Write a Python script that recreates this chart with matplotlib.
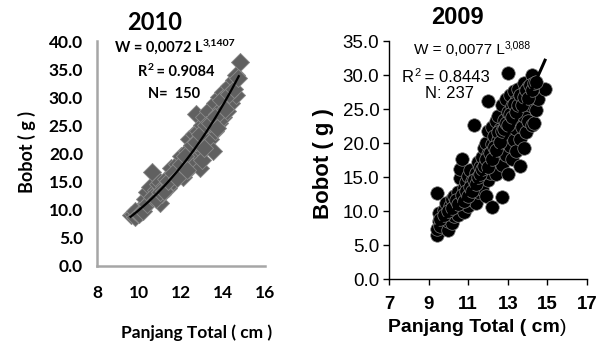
import matplotlib
matplotlib.use('Agg')
import matplotlib.pyplot as plt
from matplotlib.text import Annotation
import numpy as np

# --- 2010 (panel kiri) ---
pj_2010 = [9.6, 9.7, 9.8, 9.9, 10.0, 10.1, 10.2, 10.3, 10.3, 10.4, 10.5, 10.5, 10.6, 10.7,
           10.8, 10.9, 11.0, 11.0, 11.1, 11.2, 11.3, 11.4, 11.5, 11.6, 11.7, 11.8, 11.9, 12.0,
           12.0, 12.1, 12.2, 12.3, 12.4, 12.4, 12.5, 12.6, 12.6, 12.7, 12.7, 12.8, 12.8, 12.9,
           12.9, 13.0, 13.0, 13.1, 13.1, 13.2, 13.3, 13.3, 13.4, 13.5, 13.5, 13.6, 13.6, 13.7,
           13.8, 13.8, 13.9, 14.0, 14.0, 14.1, 14.2, 14.2, 14.3, 14.4, 14.5, 14.6, 14.6, 14.8,
           9.8, 10.0, 10.2, 10.4, 10.6, 10.8, 11.0, 11.2, 11.4, 11.6, 11.8, 12.0, 12.2, 12.3,
           12.5, 12.7, 12.9, 13.0, 13.1, 13.2, 13.4, 13.6, 13.7, 13.9, 14.1, 14.3, 14.5, 14.7]
bb_2010 = [9.0, 9.3, 8.8, 9.5, 10.0, 9.6, 10.4, 10.8, 12.0, 13.2, 11.5, 14.0, 16.8, 12.6,
           13.5, 14.5, 11.2, 15.0, 12.8, 14.2, 15.5, 13.8, 17.5, 15.2, 16.0, 18.2, 16.5, 17.0,
           19.5, 15.8, 18.0, 20.5, 17.2, 22.5, 19.0, 21.0, 23.5, 18.5, 27.0, 20.0, 24.0, 17.5,
           22.0, 25.0, 20.5, 23.0, 26.5, 21.5, 24.5, 27.5, 22.5, 20.5, 26.0, 29.0, 24.0, 27.0,
           30.0, 25.5, 28.0, 31.0, 26.5, 29.5, 30.5, 27.5, 32.0, 29.0, 33.0, 30.4, 34.0, 36.2,
           9.8, 9.2, 9.8, 11.0, 12.2, 12.0, 13.2, 13.4, 15.2, 16.6, 15.6, 18.2, 19.6, 17.0,
           21.5, 22.0, 23.5, 18.8, 21.0, 25.0, 25.5, 26.5, 24.6, 29.5, 28.0, 30.5, 31.5, 33.5]
a_2010, b_2010 = 0.0072, 3.1407

# --- 2009 (panel kanan) ---
pj_2009 = [9.4, 9.4, 9.5, 9.5, 9.4, 9.6, 9.7, 9.8, 9.9, 10.0, 10.0, 10.1, 10.1, 10.2, 10.2,
           10.3, 10.3, 10.4, 10.4, 10.5, 10.5, 10.6, 10.6, 10.6, 10.7, 10.7, 10.8, 10.8, 10.9,
           10.9, 11.0, 11.0, 11.0, 11.1, 11.1, 11.2, 11.2, 11.3, 11.3, 11.4, 11.4, 11.5, 11.5,
           11.6, 11.6, 11.7, 11.7, 11.8, 11.8, 11.9, 11.9, 11.9, 12.0, 12.0, 12.0, 12.0, 12.1,
           12.1, 12.2, 12.2, 12.2, 12.3, 12.3, 12.3, 12.4, 12.4, 12.5, 12.5, 12.5, 12.6, 12.6,
           12.7, 12.7, 12.7, 12.8, 12.8, 12.9, 12.9, 13.0, 13.0, 13.0, 13.0, 13.1, 13.1, 13.2,
           13.2, 13.2, 13.3, 13.3, 13.3, 13.4, 13.4, 13.4, 13.5, 13.5, 13.6, 13.6, 13.6, 13.7,
           13.7, 13.8, 13.8, 13.8, 13.9, 13.9, 14.0, 14.0, 14.1, 14.2, 14.2, 14.3, 14.3, 14.4,
           14.5, 14.9,
           9.6, 9.8, 10.0, 10.2, 10.4, 10.5, 10.7, 10.8, 10.9, 11.0, 11.1, 11.2, 11.3, 11.4,
           11.5, 11.6, 11.7, 11.8, 11.9, 12.0, 12.1, 12.2, 12.3, 12.4, 12.5, 12.6, 12.7, 12.8,
           12.9, 13.0, 13.1, 13.2, 13.3, 13.4, 13.5, 13.6, 13.7, 13.8, 13.9, 14.0, 14.1, 14.2,
           14.3, 14.4]
bb_2009 = [6.5, 7.3, 8.5, 9.7, 12.6, 7.8, 9.0, 10.2, 11.2, 7.2, 8.6, 9.6, 10.8, 8.2, 11.8,
           9.2, 12.2, 10.0, 11.0, 9.4, 12.8, 10.6, 14.8, 16.2, 17.6, 11.6, 13.4, 9.8, 12.0,
           14.2, 10.8, 13.0, 15.2, 11.8, 16.0, 12.6, 14.4, 22.7, 13.6, 11.2, 15.6, 17.2, 12.8,
           14.0, 16.4, 18.0, 13.2, 15.0, 19.2, 12.2, 16.8, 20.0, 26.2, 14.6, 18.4, 21.8, 17.0,
           15.6, 10.6, 19.8, 22.4, 16.2, 18.6, 21.0, 23.2, 15.4, 17.6, 20.4, 24.0, 19.0, 22.0,
           12.1, 16.8, 25.6, 20.8, 23.4, 18.2, 26.4, 30.3, 15.5, 21.6, 24.6, 19.6, 27.0, 17.6,
           22.8, 25.4, 20.4, 24.0, 27.6, 18.8, 22.0, 26.2, 23.6, 28.0, 16.6, 20.6, 25.0, 22.4,
           27.2, 19.2, 24.0, 28.8, 21.6, 26.4, 23.2, 28.2, 25.6, 30.0, 22.6, 22.9, 26.8, 24.8,
           26.4, 28.0,
           8.8, 9.4, 10.0, 10.4, 11.6, 11.0, 12.4, 11.4, 13.0, 12.2, 13.6, 13.0, 14.6, 14.0,
           15.0, 15.4, 16.2, 16.6, 17.6, 16.4, 18.6, 17.6, 19.4, 19.0, 21.6, 20.2, 21.8, 22.0,
           23.0, 22.6, 24.2, 23.8, 25.8, 24.6, 25.6, 27.0, 25.6, 26.8, 27.8, 26.6, 28.6, 27.8,
           28.8, 29.0]
a_2009, b_2009 = 0.0077, 3.088

W, H = 612, 347
fig = plt.figure(figsize=(W / 100, H / 100), dpi=100)


def frac(x, y):
    return x / W, 1 - y / H


# ---------- panel kiri ----------
cal = 'Lato'
ax1 = fig.add_axes([97 / W, 1 - 266 / H, 168 / W, 225 / H])
ax1.scatter(pj_2010, bb_2010, marker='D', s=85, color='#606060',
            edgecolors='#8a8a8a', linewidths=0.6, zorder=2)
L1 = np.linspace(9.6, 14.75, 100)
ax1.plot(L1, a_2010 * L1 ** b_2010, color='black', lw=1.6, zorder=3)
ax1.set_xlim(8, 16)
ax1.set_ylim(0, 40)
ax1.set_xticks([8, 10, 12, 14, 16])
ax1.set_yticks(np.arange(0, 41, 5))
ax1.set_yticklabels([f'{v:.1f}' for v in np.arange(0, 41, 5)])
for s in ['top', 'right']:
    ax1.spines[s].set_visible(False)
for s in ['left', 'bottom']:
    ax1.spines[s].set_color('#a6a6a6')
    ax1.spines[s].set_linewidth(1.8)
ax1.tick_params(axis='both', length=0, labelsize=12.5)
ax1.tick_params(axis='x', pad=14)
ax1.tick_params(axis='y', pad=10)
for lab in ax1.get_xticklabels() + ax1.get_yticklabels():
    lab.set_fontweight('bold')
    lab.set_family(cal)

fig.text(*frac(155, 22), '2010', ha='center', va='center', fontsize=17,
         fontweight='bold', family=cal)
fig.text(*frac(27, 152), 'Bobot ( g )', ha='center', va='center', rotation=90,
         fontsize=13, fontweight='bold', family=cal)
fig.text(*frac(197, 333), 'Panjang Total ( cm )', ha='center', va='center',
         fontsize=12.5, fontweight='bold', family=cal)
t = fig.text(*frac(115, 48), 'W = 0,0072 L', ha='left', va='center',
             fontsize=10.5, fontweight='bold', family=cal)
fig.add_artist(Annotation('3,1407', xy=(1.0, 1.15), xycoords=t, va='top', ha='left',
                          fontsize=7.5, fontweight='bold', family=cal))
t = fig.text(*frac(138, 72), 'R', ha='left', va='center',
             fontsize=10.5, fontweight='bold', family=cal)
t2 = fig.add_artist(Annotation('2', xy=(1.0, 1.15), xycoords=t, va='top', ha='left',
                               fontsize=7.5, fontweight='bold', family=cal))
fig.add_artist(Annotation(' = 0.9084', xy=(1.0, 0.5), xycoords=(t2, t), va='center',
                          ha='left', fontsize=10.5, fontweight='bold', family=cal))
fig.text(*frac(148, 94), 'N=  150', ha='left', va='center',
         fontsize=10.5, fontweight='bold', family=cal)

# ---------- panel kanan ----------
ari = 'Liberation Sans'
ax2 = fig.add_axes([389 / W, 1 - 279 / H, 198 / W, 238 / H])
ax2.scatter(pj_2009, bb_2009, marker='o', s=95, color='black',
            edgecolors='#808080', linewidths=0.5, zorder=2)
L2 = np.linspace(9.4, 14.88, 100)
ax2.plot(L2, a_2009 * L2 ** b_2009, color='black', lw=2.2, zorder=3)
ax2.set_xlim(7, 17)
ax2.set_ylim(0, 35)
ax2.set_xticks([7, 9, 11, 13, 15, 17])
ax2.set_yticks(np.arange(0, 36, 5))
ax2.set_yticklabels([f'{v:.1f}' for v in np.arange(0, 36, 5)])
for s in ['top', 'right']:
    ax2.spines[s].set_visible(False)
for s in ['left', 'bottom']:
    ax2.spines[s].set_linewidth(1.0)
ax2.tick_params(axis='both', length=4, width=1.0, direction='out')
ax2.tick_params(axis='x', pad=8, labelsize=13.5)
ax2.tick_params(axis='y', pad=3, labelsize=13.5)
for lab in ax2.get_xticklabels():
    lab.set_fontweight('bold')
    lab.set_family(ari)
for lab in ax2.get_yticklabels():
    lab.set_family(ari)

fig.text(*frac(457, 18), '2009', ha='center', va='center', fontsize=17,
         fontweight='bold', family=ari)
fig.text(*frac(324, 164), 'Bobot ( g )', ha='center', va='center', rotation=90,
         fontsize=16, fontweight='bold', family=ari)
fig.text(*frac(560, 328), 'Panjang Total ( cm', ha='right', va='center',
         fontsize=14, fontweight='bold', family=ari)
fig.text(*frac(560, 328), ')', ha='left', va='center', fontsize=14, family=ari)
t = fig.text(*frac(414, 50), 'W = 0,0077 L', ha='left', va='center',
             fontsize=11, family=ari)
fig.add_artist(Annotation('3,088', xy=(1.0, 1.2), xycoords=t, va='top', ha='left',
                          fontsize=7.5, family=ari))
t = fig.text(*frac(402, 77), 'R', ha='left', va='center', fontsize=12, family=ari)
t2 = fig.add_artist(Annotation('2', xy=(1.0, 1.1), xycoords=t, va='top', ha='left',
                               fontsize=8, family=ari))
fig.add_artist(Annotation(' = 0.8443', xy=(1.0, 0.5), xycoords=(t2, t), va='center',
                          ha='left', fontsize=12, family=ari))
fig.text(*frac(425, 93), 'N: 237', ha='left', va='center', fontsize=12, family=ari)

fig.savefig('out.png', dpi=100)
